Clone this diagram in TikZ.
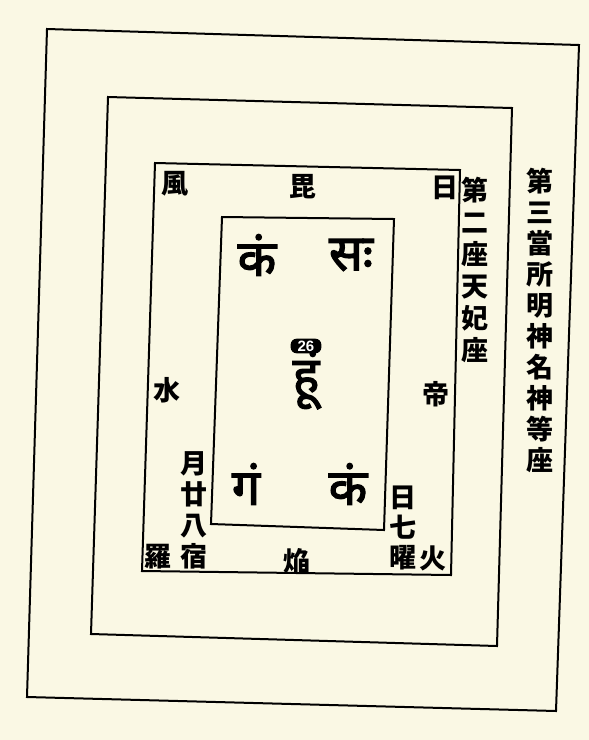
\documentclass[tikz,border=0pt]{standalone}
\usepackage{fontspec}
\setmainfont{Liberation Sans}
\newfontfamily\jpfont{Noto Sans CJK JP}
\newfontfamily\devafont[Script=Devanagari,FakeBold=2.5]{Noto Sans}
\definecolor{paper}{RGB}{250,248,228}
\begin{document}
\begin{tikzpicture}[x=1pt,y=-1pt,
    frame/.style={line width=2pt,line join=miter},
    kanji/.style={font=\jpfont\bfseries\fontsize{27}{31}\selectfont,inner sep=0pt,align=center},
    bija/.style={font=\devafont\fontsize{50}{50}\selectfont,inner sep=0pt},
    numtag/.style={fill=black,text=white,rounded corners=6pt,inner xsep=7pt,inner ysep=2pt,
      font=\bfseries\fontsize{15}{15}\selectfont}]
  \fill[paper] (0,0) rectangle (589,740);
  \useasboundingbox (0,0) rectangle (589,740);
  % four seats, outermost first
  \draw[frame] (47,29) -- (579,45) -- (556,711) -- (27,697) -- cycle;
  \draw[frame] (108,97) -- (512,108) -- (497,646) -- (91,634) -- cycle;
  \draw[frame] (155,163) -- (460,170) -- (451,575) -- (142,571) -- cycle;
  \draw[frame] (222,217) -- (394,219) -- (384,530) -- (211,524) -- cycle;
  % seed syllables of the inner seat
  \node[bija] (tl) at (257,255) {कं};
  \node[bija] (tr) at (351,255) {सः};
  \node[numtag] (num) at (306,346) {26};
  \node[bija] (ctr) at (306,380) {हूं};
  \node[bija] (bl) at (246,484) {गं};
  \node[bija] (br) at (348,484) {कं};
  % names round the second seat
  \node[kanji] (kaze) at (175,184) {風};
  \node[kanji] (bi) at (303,187) {毘};
  \node[kanji] (hi) at (445,188) {日};
  \node[kanji] (mizu) at (167,390) {水};
  \node[kanji] (tei) at (436,394) {帝};
  \node[kanji] (shuku) at (194,510) {月\\廿\\八\\宿};
  \node[kanji] (ra) at (158,557) {羅};
  \node[kanji] (en) at (297,561) {焔};
  \node[kanji,font=\jpfont\bfseries\fontsize{27}{30}\selectfont] (yo) at (403,528) {日\\七\\曜};
  \node[kanji] (ka) at (433,558) {火};
  % seat titles
  \node[kanji,font=\jpfont\bfseries\fontsize{27}{32}\selectfont] (za2) at (475,270) {第\\二\\座\\天\\妃\\座};
  \node[kanji,font=\jpfont\bfseries\fontsize{27}{31}\selectfont] (za3) at (540,320) {第\\三\\當\\所\\明\\神\\名\\神\\等\\座};
\end{tikzpicture}
\end{document}
